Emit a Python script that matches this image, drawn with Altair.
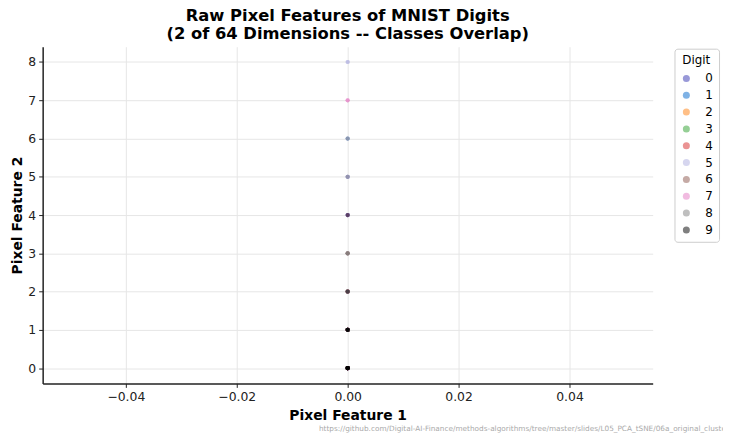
import altair as alt
import pandas as pd

digits = ["0", "1", "2", "3", "4", "5", "6", "7", "8", "9"]
colors = ["#3333B2", "#0066CC", "#FF7F0E", "#2CA02C", "#D62728",
          "#ADADE0", "#8C564B", "#E377C2", "#7F7F7F", "#000000"]

# estimated number of samples per (Pixel Feature 2 level, digit); Pixel Feature 1 is always 0
levels = [0, 1, 2, 3, 4, 5, 6, 7, 8]
counts = [
    [8, 8, 8, 8, 8, 8, 8, 8, 8, 8],
    [3, 4, 4, 4, 3, 4, 3, 4, 3, 4],
    [1, 1, 2, 2, 1, 2, 1, 2, 2, 1],
    [0, 0, 0, 0, 0, 1, 2, 0, 2, 0],
    [2, 0, 0, 0, 0, 1, 0, 1, 0, 1],
    [1, 0, 0, 0, 0, 2, 0, 0, 1, 0],
    [0, 1, 0, 0, 0, 1, 0, 0, 1, 0],
    [0, 0, 0, 0, 0, 0, 0, 2, 0, 0],
    [0, 0, 0, 0, 0, 2, 0, 0, 0, 0],
]
x_ticks = [-0.04, -0.02, 0.0, 0.02, 0.04]
y_ticks = [0, 1, 2, 3, 4, 5, 6, 7, 8]
source_text = "https://github.com/Digital-AI-Finance/methods-algorithms/tree/master/slides/L05_PCA_tSNE/06a_original_clusters"

rows = []
for di, d in enumerate(digits):
    for li, lv in enumerate(levels):
        for _ in range(counts[li][di]):
            rows.append({"f1": 0.0, "f2": lv, "Digit": d})
df = pd.DataFrame(rows)

points = alt.Chart(df).mark_circle(size=18, opacity=0.5).encode(
    x=alt.X("f1:Q", title="Pixel Feature 1",
            scale=alt.Scale(domain=[-0.055, 0.055], nice=False, zero=False),
            axis=alt.Axis(values=x_ticks, format=".2f", titlePadding=6)),
    y=alt.Y("f2:Q", title="Pixel Feature 2",
            scale=alt.Scale(domain=[-0.4, 8.4], nice=False, zero=False),
            axis=alt.Axis(values=y_ticks, format="d", titlePadding=3)),
    color=alt.Color("Digit:N", scale=alt.Scale(domain=digits, range=colors),
                    legend=alt.Legend(title="Digit", orient="none", legendX=638, legendY=2,
                                      padding=6, strokeColor="#cccccc", cornerRadius=3,
                                      fillColor="white", symbolSize=50, symbolOpacity=0.5,
                                      labelFontSize=12, titleFontSize=12, titleFontWeight="normal",
                                      titleAnchor="middle", rowPadding=5, labelOffset=13,
                                      symbolStrokeWidth=0, titlePadding=6)),
)

footer = alt.Chart(pd.DataFrame({"t": [source_text]})).mark_text(
    align="left", baseline="middle", fontSize=7.4, color="#aaaaaa"
).encode(x=alt.value(279), y=alt.value(386), text="t:N")

chart = alt.layer(points, footer).properties(
    width=616, height=340,
    title=alt.Title(["Raw Pixel Features of MNIST Digits", "(2 of 64 Dimensions -- Classes Overlap)"],
                    fontSize=16.5, fontWeight="bold", anchor="middle", offset=4, color="#000000",
                    lineHeight=18.5),
    autosize=alt.AutoSizeParams(type="none"),
    padding={"left": 35, "top": 37, "right": 71, "bottom": 50},
).configure(font="DejaVu Sans").configure_view(stroke=None).configure_axis(
    domainColor="#222222", domainWidth=1.5, tickColor="#222222", tickSize=4,
    labelFontSize=12.5, labelColor="#222222", titleFontSize=14, titleFontWeight="bold",
    titleColor="#000000", gridColor="#e6e6e6", gridWidth=1, labelPadding=3,
)

chart.save("out.html", embed_options={"renderer": "svg", "actions": False})
